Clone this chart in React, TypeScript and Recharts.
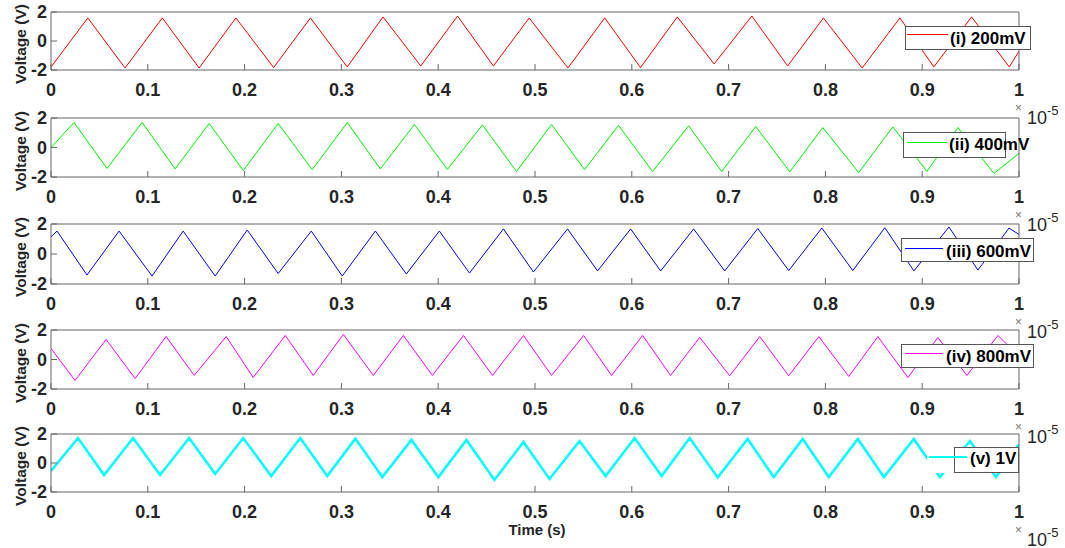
import React from "react"
import { LineChart, Line, XAxis, YAxis, Legend } from "recharts"

const timeTicks = [0, 0.1, 0.2, 0.3, 0.4, 0.5, 0.6, 0.7, 0.8, 0.9, 1]
const voltTicks = [-2, 0, 2]

// triangle-wave corner points: [time (x1e-5 s), voltage (V)]
const trace200mV: [number, number][] = [
  [0, -1.8], [0.038, 1.59], [0.0765, -1.86], [0.115, 1.59], [0.153, -1.86], [0.191, 1.59],
  [0.23, -1.83], [0.268, 1.59], [0.306, -1.79], [0.343, 1.66], [0.382, -1.72], [0.42, 1.72],
  [0.457, -1.72], [0.494, 1.59], [0.534, -1.86], [0.572, 1.59], [0.609, -1.83], [0.647, 1.66],
  [0.685, -1.58], [0.724, 1.72], [0.761, -1.72], [0.798, 1.59], [0.838, -1.86], [0.877, 1.59],
  [0.912, -1.79], [0.951, 1.66], [0.99, -1.79], [1, -0.7],
]

const trace400mV: [number, number][] = [
  [0, 0], [0.0238, 1.7], [0.0579, -1.42], [0.0941, 1.7], [0.1282, -1.45], [0.1634, 1.63],
  [0.1986, -1.56], [0.2347, 1.63], [0.2699, -1.5], [0.3061, 1.69], [0.3402, -1.45], [0.3754, 1.56],
  [0.4095, -1.49], [0.4457, 1.53], [0.4809, -1.63], [0.5171, 1.56], [0.5512, -1.5], [0.5863, 1.5],
  [0.6215, -1.63], [0.6587, 1.47], [0.6929, -1.63], [0.728, 1.42], [0.7632, -1.65], [0.7973, 1.35],
  [0.8345, -1.7], [0.8697, 1.4], [0.9049, -1.63], [0.9369, 1.35], [0.9741, -1.76], [1, -0.4],
]

const trace600mV: [number, number][] = [
  [0, 1.13], [0.0062, 1.53], [0.0372, -1.4], [0.0703, 1.53], [0.1044, -1.47], [0.1365, 1.53],
  [0.1696, -1.47], [0.2027, 1.6], [0.2347, -1.3], [0.2689, 1.53], [0.3009, -1.47], [0.3351, 1.53],
  [0.3671, -1.33], [0.4012, 1.53], [0.4323, -1.27], [0.4674, 1.67], [0.4984, -1.2], [0.5336, 1.67],
  [0.5646, -1.13], [0.5988, 1.67], [0.6298, -1.13], [0.6639, 1.67], [0.696, -1.13], [0.7301, 1.7],
  [0.7621, -1.1], [0.7963, 1.73], [0.8283, -1.1], [0.8614, 1.75], [0.8914, -1.13], [0.9276, 1.8],
  [0.9576, -1.07], [0.9897, 1.73], [1, 1.3],
]

const trace800mV: [number, number][] = [
  [0, 0.75], [0.0248, -1.42], [0.0569, 1.36], [0.0869, -1.29], [0.1189, 1.56], [0.1479, -1.08],
  [0.181, 1.56], [0.2089, -1.22], [0.242, 1.63], [0.2709, -1.08], [0.302, 1.7], [0.333, -1.08],
  [0.364, 1.63], [0.394, -1.08], [0.4261, 1.63], [0.4561, -1.08], [0.4881, 1.63], [0.5171, -1.08],
  [0.5502, 1.63], [0.5791, -1.08], [0.6112, 1.63], [0.6401, -1.08], [0.6701, 1.5], [0.7011, -1.1],
  [0.7322, 1.55], [0.7621, -1.1], [0.7932, 1.55], [0.8242, -1.15], [0.8542, 1.55], [0.8852, -1.22],
  [0.9162, 1.49], [0.9462, -1.08], [0.9783, 1.63], [1, 0.2],
]

const trace1V: [number, number][] = [
  [0, -0.55], [0.0279, 1.72], [0.0548, -0.83], [0.0848, 1.72], [0.1127, -0.83], [0.1427, 1.72],
  [0.1696, -0.76], [0.1986, 1.72], [0.2275, -0.9], [0.2575, 1.72], [0.2854, -0.9], [0.3144, 1.68],
  [0.3423, -0.97], [0.3723, 1.59], [0.4002, -0.97], [0.4292, 1.59], [0.4581, -1.17], [0.4881, 1.45],
  [0.515, -1.1], [0.546, 1.52], [0.5729, -0.9], [0.6029, 1.72], [0.6308, -0.9], [0.6598, 1.72],
  [0.6887, -1.0], [0.7197, 1.66], [0.7466, -0.97], [0.7766, 1.66], [0.8035, -0.97], [0.8335, 1.66],
  [0.8604, -0.97], [0.8914, 1.66], [0.9183, -0.97], [0.9493, 1.52], [0.9762, -0.97], [1, 1.3],
]

const panels = [
  { name: "(i) 200mV", color: "#ff0000", lw: 1, points: trace200mV, top: 12, h: 58,
    legend: { left: 905, top: 26, w: 126, h: 24, lineX1: 907, lineX2: 948, lineY: 34, textX: 950, textY: 39 } },
  { name: "(ii) 400mV", color: "#00ee00", lw: 1, points: trace400mV, top: 118, h: 59,
    legend: { left: 903, top: 132, w: 103, h: 26, lineX1: 907, lineX2: 947, lineY: 142, textX: 949, textY: 145 } },
  { name: "(iii) 600mV", color: "#0000ff", lw: 1, points: trace600mV, top: 224, h: 60,
    legend: { left: 901, top: 238, w: 133, h: 24, lineX1: 905, lineX2: 943, lineY: 248, textX: 946, textY: 252 } },
  { name: "(iv) 800mV", color: "#ff00ff", lw: 1, points: trace800mV, top: 330, h: 59,
    legend: { left: 901, top: 344, w: 133, h: 24, lineX1: 905, lineX2: 943, lineY: 353, textX: 946, textY: 357 } },
  { name: "(v) 1V", color: "#00ffff", lw: 2.5, points: trace1V, top: 434, h: 58,
    legend: { left: 954, top: 447, w: 65, h: 26, lineX1: 929, lineX2: 967, lineY: 457, textX: 970, textY: 459, bgLeft: 927 } },
]

const FONT = "'Liberation Sans', Arial, Helvetica, sans-serif"
const AXIS = "#666666"
const TEXT = "#262626"
const PAD_TOP = 10

type LegendCfg = { left: number; top: number; w: number; h: number; lineX1: number; lineX2: number; lineY: number; textX: number; textY: number; bgLeft?: number }

function LegendBox({ cfg, name, color, lw }: { cfg: LegendCfg; name: string; color: string; lw: number }) {
  const bgLeft = cfg.bgLeft ?? cfg.left
  return (
    <div style={{ position: "relative", width: cfg.w, height: cfg.h }}>
      <div style={{ position: "absolute", left: bgLeft - cfg.left, top: 0, width: cfg.left + cfg.w - bgLeft, height: cfg.h, background: "#fff" }} />
      <div style={{ position: "absolute", left: 0, top: 0, width: cfg.w, height: cfg.h, boxSizing: "border-box", border: "1px solid #555" }} />
      <div style={{ position: "absolute", left: cfg.lineX1 - cfg.left, top: cfg.lineY - cfg.top - lw / 2, width: cfg.lineX2 - cfg.lineX1, height: lw, background: color }} />
      <div style={{ position: "absolute", left: cfg.textX - cfg.left, top: cfg.textY - cfg.top - 10, height: 20, lineHeight: "20px", fontSize: 17, fontWeight: 700, color: "#000", whiteSpace: "nowrap", fontFamily: FONT }}>
        {name}
      </div>
    </div>
  )
}

function Panel({ p }: { p: (typeof panels)[number] }) {
  const data = p.points.map(([t, v]) => ({ t, v }))
  const chartTop = p.top - PAD_TOP
  const tickFont = { fill: TEXT, fontSize: 18, fontWeight: 700, fontFamily: FONT }
  return (
    <div style={{ position: "absolute", left: 0, top: chartTop }}>
      <LineChart width={1065} height={PAD_TOP + p.h + 30} data={data} margin={{ top: 0, right: 0, bottom: 0, left: 0 }}>
        <XAxis xAxisId="b" dataKey="t" type="number" domain={[0, 1]} ticks={timeTicks} height={30}
          tickSize={-6} tickMargin={19} stroke={AXIS} interval={0} allowDataOverflow
          tick={tickFont} tickFormatter={(v: number) => String(v)} />
        <XAxis xAxisId="t" orientation="top" dataKey="t" type="number" domain={[0, 1]} ticks={timeTicks} height={PAD_TOP}
          tickSize={-6} tick={false} stroke={AXIS} interval={0} allowDataOverflow />
        <YAxis yAxisId="l" type="number" domain={[-2, 2]} ticks={voltTicks} width={51} interval={0}
          tickSize={-6} tickMargin={10} stroke={AXIS} allowDataOverflow tick={tickFont} />
        <YAxis yAxisId="r" orientation="right" type="number" domain={[-2, 2]} ticks={voltTicks} width={46} interval={0}
          tickSize={-6} tick={false} stroke={AXIS} allowDataOverflow />
        <Line xAxisId="b" yAxisId="l" type="linear" dataKey="v" stroke={p.color} strokeWidth={p.lw}
          dot={false} isAnimationActive={false} />
        <Legend layout="horizontal" verticalAlign="middle" align="center"
          wrapperStyle={{ left: p.legend.left, top: p.legend.top - chartTop, width: p.legend.w, height: p.legend.h }}
          content={() => <LegendBox cfg={p.legend} name={p.name} color={p.color} lw={p.lw} />} />
      </LineChart>
      <div style={{ position: "absolute", left: 21, top: PAD_TOP + p.h / 2 + 3, transform: "translate(-50%, -50%) rotate(-90deg)", fontSize: 15.5, fontWeight: 700, color: TEXT, whiteSpace: "nowrap", fontFamily: FONT }}>
        Voltage (V)
      </div>
      <div style={{ position: "absolute", left: 1015, top: PAD_TOP + p.h + 32, fontSize: 12, color: "#777", lineHeight: 1, fontFamily: FONT }}>×</div>
      <div style={{ position: "absolute", left: 1027, top: PAD_TOP + p.h + 39, fontSize: 18, color: TEXT, lineHeight: 1, fontFamily: FONT }}>10</div>
      <div style={{ position: "absolute", left: 1047, top: PAD_TOP + p.h + 34, fontSize: 13, color: TEXT, lineHeight: 1, fontFamily: FONT }}>-5</div>
    </div>
  )
}

export default function App() {
  return (
    <div style={{ position: "absolute", left: 0, top: 0, width: 1065, height: 548, background: "#fff", overflow: "hidden", fontFamily: FONT }}>
      {panels.map((p) => (
        <Panel key={p.name} p={p} />
      ))}
      <div style={{ position: "absolute", left: 537, top: 529, transform: "translate(-50%, -50%)", fontSize: 15, fontWeight: 700, color: TEXT, whiteSpace: "nowrap" }}>
        Time (s)
      </div>
    </div>
  )
}
